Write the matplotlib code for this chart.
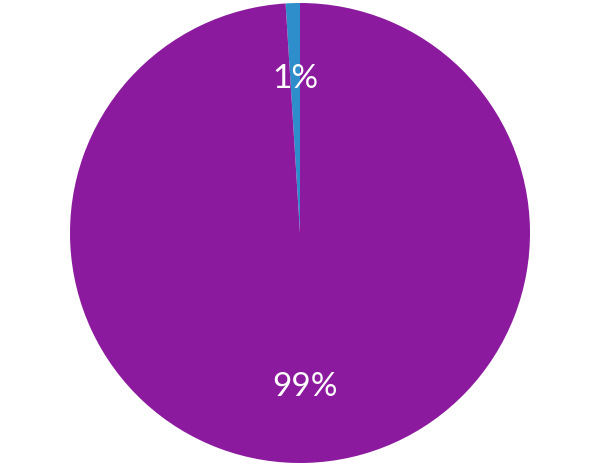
import matplotlib
matplotlib.use("Agg")
import matplotlib.pyplot as plt

# Данные диаграммы
labels = ["1%", "99%"]
shares = [1, 99]
colors = ["#2E8DCB", "#8C1A9E"]

plt.rcParams['font.family'] = ['Lato', 'DejaVu Sans']

fig = plt.figure(figsize=(6, 4.67), dpi=100)
fig.patch.set_facecolor("white")

# Круг: центр около (300, 233), радиус ~230 px
ax = fig.add_axes([70 / 600, 4 / 467, 460 / 600, 460 / 467])
wedges, texts, autotexts = ax.pie(
    shares,
    colors=colors,
    startangle=90,
    counterclock=True,
    radius=1.0,
    autopct=lambda p: f"{p:.0f}%",
    pctdistance=0.67,
    wedgeprops=dict(linewidth=0),
    textprops=dict(color="white", fontsize=24, fontweight="normal"),
)
ax.set_xlim(-1, 1)
ax.set_ylim(-1, 1)
ax.set_aspect("equal")
ax.axis("off")

fig.savefig("out.png", dpi=100, facecolor="white")
